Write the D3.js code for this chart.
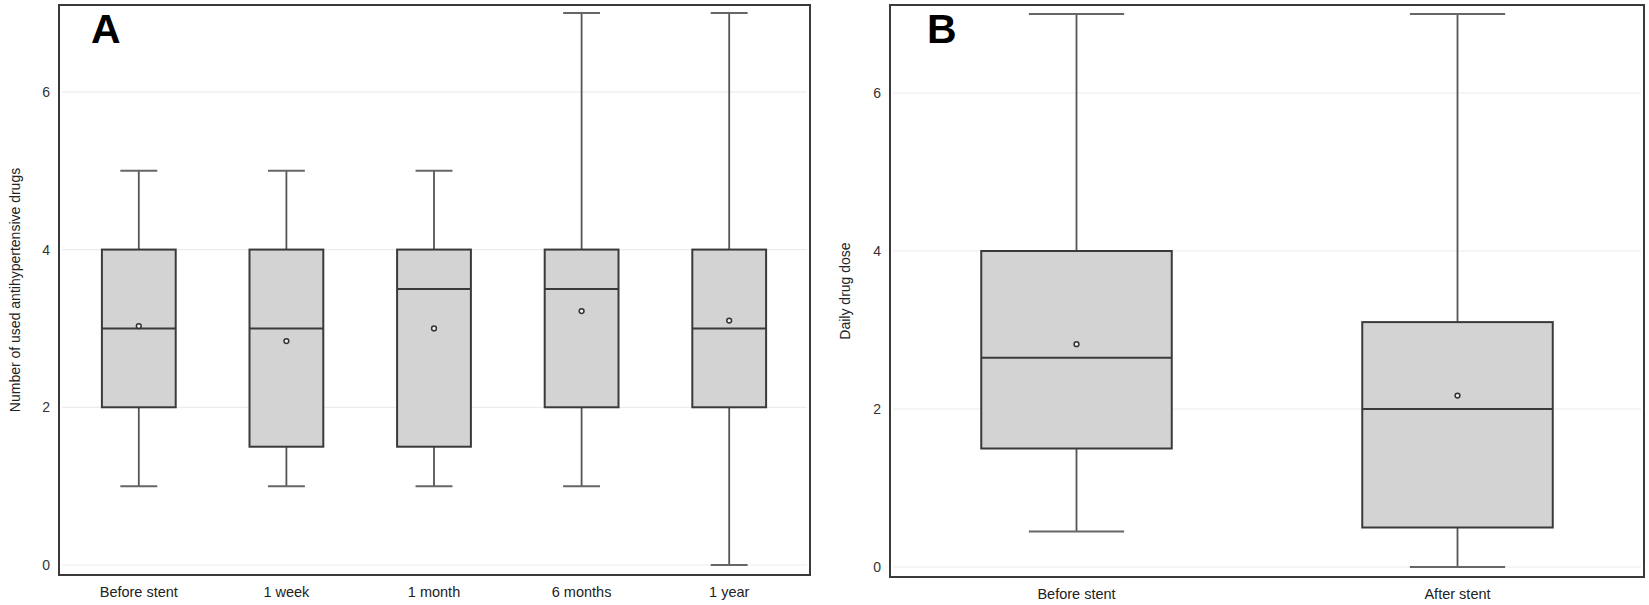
<!DOCTYPE html>
<html>
<head>
<meta charset="utf-8">
<script src="https://cdn.jsdelivr.net/npm/d3@7"></script>
<style>
  html, body { margin: 0; padding: 0; background: #fff; }
  svg { display: block; }
  text { font-family: "Liberation Sans", Arial, sans-serif; }
</style>
</head>
<body>
<svg id="chart" width="1649" height="605"></svg>
<script>
// ---- Data ----
const catsA = ["Before stent", "1 week", "1 month", "6 months", "1 year"];
const minA  = [1, 1, 1, 1, 0];
const q1A   = [2, 1.5, 1.5, 2, 2];
const medA  = [3, 3, 3.5, 3.5, 3];
const q3A   = [4, 4, 4, 4, 4];
const maxA  = [5, 5, 5, 7, 7];
const meanA = [3.03, 2.84, 3.0, 3.22, 3.1];

const catsB = ["Before stent", "After stent"];
const minB  = [0.45, 0];
const q1B   = [1.5, 0.5];
const medB  = [2.65, 2.0];
const q3B   = [4.0, 3.1];
const maxB  = [7, 7];
const meanB = [2.82, 2.17];

const yTicks = [0, 2, 4, 6];
const labelA = "Number of used antihypertensive drugs";
const labelB = "Daily drug dose";

const svg = d3.select("#chart");

function panel(opt) {
  const g = svg.append("g");
  const rows = opt.cats.map((c, i) => ({
    cat: c, min: opt.min[i], q1: opt.q1[i], med: opt.med[i],
    q3: opt.q3[i], max: opt.max[i], mean: opt.mean[i]
  }));
  const x = d3.scaleBand().domain(opt.cats).range(opt.xRange).paddingInner(0).paddingOuter(0);
  const y = d3.scaleLinear().domain([0, 7]).range(opt.yRange);
  const f = opt.frame;

  // gridlines
  g.selectAll(".grid").data(yTicks).join("line")
    .attr("x1", f.x0 + 3).attr("x2", f.x1 - 3)
    .attr("y1", d => y(d)).attr("y2", d => y(d))
    .attr("stroke", "#ececec").attr("stroke-width", 1.2);

  const bw = x.bandwidth() * 0.5;
  const cw = bw * 0.5;
  const cx = d => x(d.cat) + x.bandwidth() / 2;

  const box = g.selectAll(".box").data(rows).join("g");
  // whiskers
  box.append("line").attr("x1", cx).attr("x2", cx)
    .attr("y1", d => y(d.max)).attr("y2", d => y(d.q3))
    .attr("stroke", "#555").attr("stroke-width", 1.8);
  box.append("line").attr("x1", cx).attr("x2", cx)
    .attr("y1", d => y(d.q1)).attr("y2", d => y(d.min))
    .attr("stroke", "#555").attr("stroke-width", 1.8);
  // caps
  box.append("line").attr("x1", d => cx(d) - cw / 2).attr("x2", d => cx(d) + cw / 2)
    .attr("y1", d => y(d.max)).attr("y2", d => y(d.max))
    .attr("stroke", "#666").attr("stroke-width", 2);
  box.append("line").attr("x1", d => cx(d) - cw / 2).attr("x2", d => cx(d) + cw / 2)
    .attr("y1", d => y(d.min)).attr("y2", d => y(d.min))
    .attr("stroke", "#666").attr("stroke-width", 2);
  // box
  box.append("rect")
    .attr("x", d => cx(d) - bw / 2).attr("width", bw)
    .attr("y", d => y(d.q3)).attr("height", d => y(d.q1) - y(d.q3))
    .attr("fill", "#d3d3d3").attr("stroke", "#3a3a3a").attr("stroke-width", 2);
  // median
  box.append("line").attr("x1", d => cx(d) - bw / 2).attr("x2", d => cx(d) + bw / 2)
    .attr("y1", d => y(d.med)).attr("y2", d => y(d.med))
    .attr("stroke", "#3a3a3a").attr("stroke-width", 2);
  // mean
  box.append("circle").attr("cx", cx).attr("cy", d => y(d.mean)).attr("r", 2.4)
    .attr("fill", "#f2f2f2").attr("stroke", "#333").attr("stroke-width", 1.5);

  // frame
  g.append("rect").attr("x", f.x0).attr("y", f.y0)
    .attr("width", f.x1 - f.x0).attr("height", f.y1 - f.y0)
    .attr("fill", "none").attr("stroke", "#3a3a3a").attr("stroke-width", 2);

  // y axis
  const ya = g.append("g").attr("transform", `translate(${f.x0},0)`)
    .call(d3.axisLeft(y).tickValues(yTicks).tickSize(0).tickPadding(9).tickFormat(d3.format("d")));
  ya.select(".domain").remove();
  ya.selectAll("text").attr("font-size", 14).attr("fill", "#333")
    .style("font-family", '"Liberation Sans", Arial, sans-serif');

  // x axis
  const xa = g.append("g").attr("transform", `translate(0,${f.y1})`)
    .call(d3.axisBottom(x).tickSize(0).tickPadding(12));
  xa.select(".domain").remove();
  xa.selectAll("text").attr("font-size", 14.5).attr("fill", "#222")
    .style("font-family", '"Liberation Sans", Arial, sans-serif');

  // y label
  g.append("text")
    .attr("transform", `translate(${opt.labelX},${(f.y0 + f.y1) / 2}) rotate(-90)`)
    .attr("text-anchor", "middle").attr("dominant-baseline", "central")
    .attr("font-size", 14).attr("fill", "#222")
    .text(opt.label);

  // panel letter
  g.append("text").attr("x", opt.letterX).attr("y", 43)
    .attr("font-size", 41).attr("font-weight", "bold").attr("fill", "#000")
    .text(opt.letter);
}

panel({
  cats: catsA, min: minA, q1: q1A, med: medA, q3: q3A, max: maxA, mean: meanA,
  xRange: [65, 803], yRange: [565, 13],
  frame: { x0: 59, x1: 810, y0: 5, y1: 575 },
  label: labelA, labelX: 15, letter: "A", letterX: 91
});

panel({
  cats: catsB, min: minB, q1: q1B, med: medB, q3: q3B, max: maxB, mean: meanB,
  xRange: [886, 1648], yRange: [567, 14],
  frame: { x0: 890, x1: 1644, y0: 5, y1: 577 },
  label: labelB, labelX: 845, letter: "B", letterX: 927
});
</script>
</body>
</html>
